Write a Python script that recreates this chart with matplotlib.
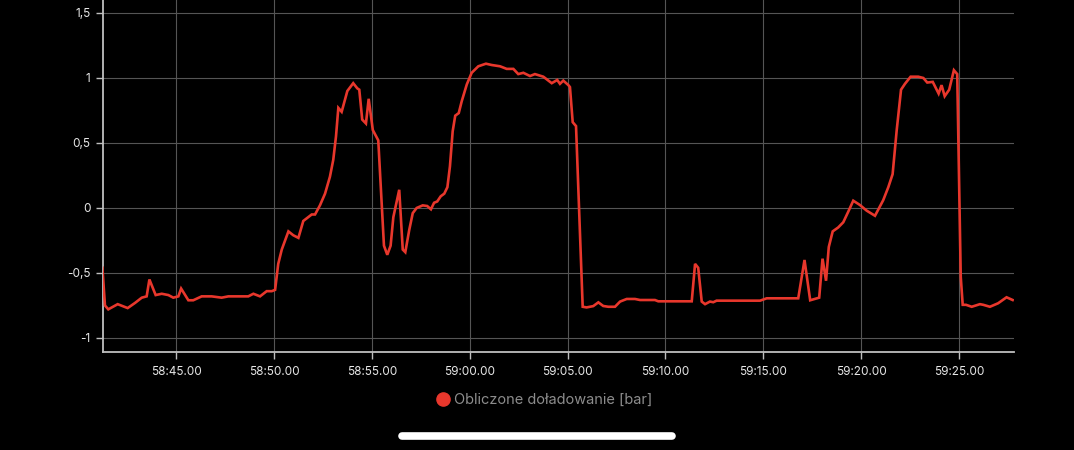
import matplotlib
matplotlib.use("Agg")
import matplotlib.pyplot as plt
from matplotlib.ticker import FuncFormatter, FixedLocator
from matplotlib.lines import Line2D

# seconds after 58:00.00
times = [41.24, 41.37, 41.54, 42.02, 42.53, 42.91, 43.25, 43.50, 43.64, 43.96,
         44.27, 44.61, 44.86, 45.12, 45.26, 45.63, 45.88, 46.31, 46.82, 47.33,
         47.67, 48.69, 48.95, 49.29, 49.63, 49.89, 50.06, 50.22, 50.40, 50.74,
         50.99, 51.25, 51.50, 51.93, 52.10, 52.35, 52.61, 52.86, 53.03, 53.17,
         53.29, 53.46, 53.75, 54.05, 54.26, 54.36, 54.51, 54.70, 54.84, 55.05,
         55.33, 55.62, 55.79, 55.96, 56.10, 56.40, 56.58, 56.71, 56.91, 57.09,
         57.29, 57.60, 57.83, 58.02, 58.18, 58.34, 58.52, 58.70, 58.86, 58.99,
         59.13, 59.26, 59.44, 59.59, 59.85, 60.10, 60.44, 60.83, 61.12, 61.55,
         61.89, 62.23, 62.48, 62.74, 63.08, 63.33, 63.76, 64.19, 64.47, 64.61,
         64.78, 65.04, 65.12, 65.26, 65.43, 65.77, 65.97, 66.31, 66.57, 66.82,
         67.08, 67.42, 67.68, 68.02, 68.44, 68.70, 69.46, 69.63, 71.34, 71.51,
         71.67, 71.85, 72.02, 72.27, 72.44, 72.61, 74.83, 75.17, 76.78, 77.10,
         77.39, 77.85, 78.02, 78.20, 78.34, 78.54, 78.82, 79.08, 79.33, 79.59,
         79.93, 80.27, 80.70, 81.12, 81.38, 81.60, 81.81, 82.03, 82.23, 82.52,
         82.91, 83.17, 83.37, 83.65, 83.95, 84.10, 84.26, 84.49, 84.73, 84.90,
         85.08, 85.18, 85.35, 85.64, 86.06, 86.23, 86.57, 86.99, 87.42, 87.73]

boost = [-0.46, -0.75, -0.78, -0.74, -0.77, -0.73, -0.69, -0.68, -0.55, -0.67,
         -0.66, -0.67, -0.69, -0.68, -0.62, -0.71, -0.71, -0.68, -0.68, -0.69,
         -0.68, -0.68, -0.66, -0.68, -0.64, -0.64, -0.63, -0.43, -0.32, -0.18,
         -0.21, -0.23, -0.10, -0.05, -0.05, 0.02, 0.11, 0.24, 0.37, 0.55,
         0.77, 0.74, 0.90, 0.96, 0.92, 0.91, 0.68, 0.65, 0.84, 0.60,
         0.52, -0.29, -0.36, -0.29, -0.07, 0.14, -0.32, -0.34, -0.17, -0.04,
         0.00, 0.02, 0.015, -0.01, 0.04, 0.05, 0.09, 0.11, 0.16, 0.32,
         0.59, 0.71, 0.73, 0.82, 0.95, 1.04, 1.09, 1.11, 1.10, 1.09,
         1.07, 1.07, 1.03, 1.04, 1.015, 1.03, 1.01, 0.96, 0.985, 0.955,
         0.98, 0.945, 0.93, 0.66, 0.63, -0.76, -0.765, -0.755, -0.726, -0.754,
         -0.76, -0.76, -0.72, -0.70, -0.70, -0.708, -0.708, -0.718, -0.718, -0.43,
         -0.46, -0.72, -0.74, -0.72, -0.725, -0.713, -0.713, -0.695, -0.695, -0.40,
         -0.71, -0.69, -0.39, -0.56, -0.30, -0.18, -0.15, -0.11, -0.03, 0.056,
         0.023, -0.02, -0.06, 0.06, 0.16, 0.26, 0.60, 0.91, 0.955, 1.01,
         1.01, 1.00, 0.965, 0.97, 0.88, 0.945, 0.86, 0.91, 1.06, 1.03,
         -0.53, -0.745, -0.745, -0.76, -0.74, -0.745, -0.76, -0.733, -0.687, -0.708]

x_ticks = [45, 50, 55, 60, 65, 70, 75, 80, 85]
y_ticks = [-1, -0.5, 0, 0.5, 1, 1.5]
series_label = "Obliczone doładowanie [bar]"

plt.rcParams['font.family'] = ['Inter', 'DejaVu Sans']

fig = plt.figure(figsize=(10.74, 4.5), dpi=100, facecolor='black')
ax = fig.add_axes([103/1074, (450-352)/450, (1014-103)/1074, 352/450])
ax.set_facecolor('black')

line_color = '#e8372c'
ax.plot(times, boost, color=line_color, lw=1.9, solid_joinstyle='miter', zorder=3)

ax.set_xlim(41.27, 87.80)
ax.set_ylim(-1.108, 1.6)

ax.xaxis.set_major_locator(FixedLocator(x_ticks))
ax.yaxis.set_major_locator(FixedLocator(y_ticks))

def fmt_x(s, pos):
    m = 58 + int(s // 60)
    sec = s - 60 * int(s // 60)
    return f"{m}:{sec:05.2f}"

def fmt_y(v, pos):
    return f"{v:g}".replace('.', ',')

ax.xaxis.set_major_formatter(FuncFormatter(fmt_x))
ax.yaxis.set_major_formatter(FuncFormatter(fmt_y))

ax.grid(True, color='#555555', lw=0.8, zorder=0)
for side in ['top', 'right']:
    ax.spines[side].set_visible(False)
for side in ['left', 'bottom']:
    ax.spines[side].set_color('#bfbfbf')
    ax.spines[side].set_linewidth(1.3)

ax.tick_params(axis='both', colors='#bfbfbf', labelcolor='#e6e6e6',
               labelsize=8.5, length=5, width=1)
ax.tick_params(axis='x', pad=5)
ax.tick_params(axis='y', pad=4)

handle = Line2D([], [], color=line_color, marker='o', linestyle='none', markersize=9.5)
fig.legend([handle], [series_label], loc='center', bbox_to_anchor=(544/1074, 1-400/450),
           frameon=False, labelcolor='#8c8c8c', fontsize=10.5, handletextpad=0.2,
           handlelength=1.0)

# home indicator bar of the screenshot
fig.add_artist(Line2D([402/1074, 672/1074], [1-436/450, 1-436/450], color='white',
                      lw=5.5, solid_capstyle='round', transform=fig.transFigure))

fig.savefig('out.png', dpi=100, facecolor='black')
